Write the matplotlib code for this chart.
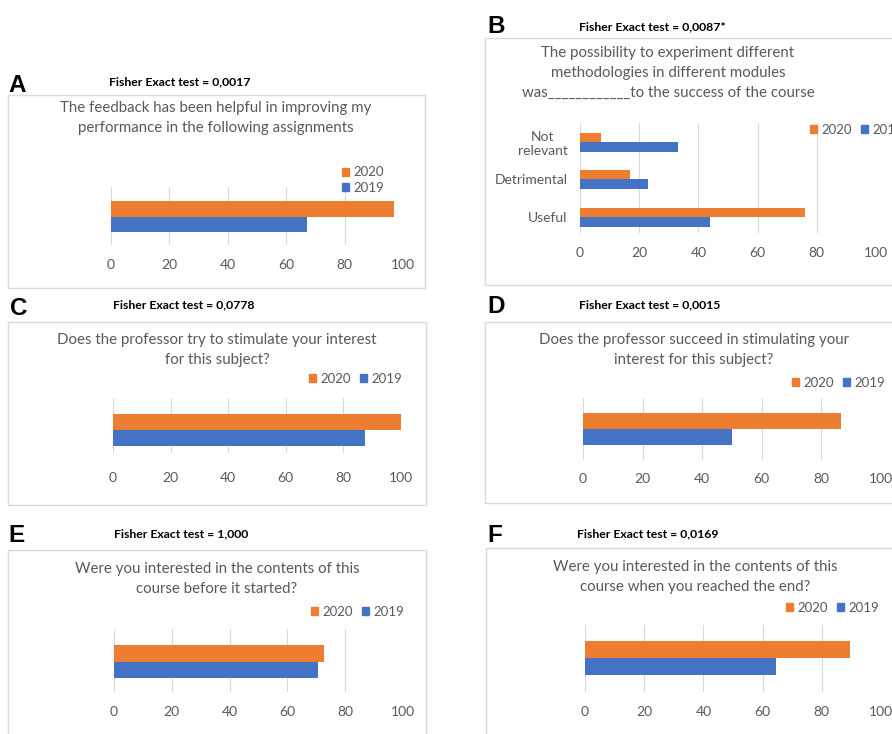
import numpy as np
import matplotlib
matplotlib.use("Agg")
import matplotlib.pyplot as plt
from matplotlib.patches import Rectangle, Patch

plt.rcParams['font.family'] = ['Lato', 'DejaVu Sans']

ORANGE = '#ED7D31'
BLUE = '#4472C4'
GREY = '#595959'
GRID = '#D9D9D9'

W, H = 892, 734

# data (percent of answers)
years = ['2020', '2019']
xticks = [0, 20, 40, 60, 80, 100]

feedback_2020 = [97]
feedback_2019 = [67]

methods_cats = ['Useful', 'Detrimental', 'Not\nrelevant']
methods_2020 = [76, 17, 7]
methods_2019 = [44, 23, 33]

try_2020 = [100]
try_2019 = [87.5]

succeed_2020 = [86.5]
succeed_2019 = [50]

before_2020 = [72.5]
before_2019 = [70.5]

end_2020 = [89.5]
end_2019 = [64.5]

fig = plt.figure(figsize=(W / 100, H / 100), dpi=100)


def fx(px):
    return px / W


def fy(py):
    return 1 - py / H


def panel(letter, lpos, fisher, fpos, box, title, tpos, v20, v19, cats,
          grid, centers, barh, legpos, legcols, tick_pad):
    # box around the excel chart
    x0, y0, x1, y1 = box
    fig.patches.append(Rectangle((fx(x0), fy(y1)), fx(x1) - fx(x0), fy(y0) - fy(y1),
                                 transform=fig.transFigure, fill=False,
                                 edgecolor=GRID, lw=1.0))
    fig.text(fx(lpos[0]), fy(lpos[1]), letter, fontsize=17.5, fontweight='bold',
             family='Liberation Sans', va='baseline', ha='left')
    fig.text(fx(fpos[0]), fy(fpos[1]), fisher, fontsize=8.8, fontweight='bold',
             va='center', ha='left')
    for i, line in enumerate(title):
        fig.text(fx(tpos[0]), fy(tpos[1] + i * 20), line, fontsize=10.8,
                 color=GREY, ha='center', va='center')

    gx0, gx1, gy0, gy1 = grid
    ax = fig.add_axes([fx(gx0), fy(gy1), fx(gx1) - fx(gx0), fy(gy0) - fy(gy1)])
    ax.set_facecolor('none')
    ypos = [(centers[0] - c) / barh for c in centers]
    ypos = np.array(ypos)
    ax.barh(ypos + 0.5, v20, height=1.0, color=ORANGE)
    ax.barh(ypos - 0.5, v19, height=1.0, color=BLUE)
    ax.set_xlim(0, 100)
    ax.set_ylim(-(gy1 - centers[0]) / barh, (centers[0] - gy0) / barh)
    ax.set_xticks(xticks)
    ax.grid(axis='x', color=GRID, lw=0.8)
    ax.set_axisbelow(True)
    for s in ax.spines.values():
        s.set_visible(False)
    ax.tick_params(length=0, labelsize=10, labelcolor=GREY, pad=tick_pad)
    if cats:
        ax.set_yticks(ypos)
        ax.set_yticklabels(cats, multialignment='center')
        ax.tick_params(axis='y', pad=9)
    else:
        ax.set_yticks([])

    handles = [Patch(color=ORANGE, label=years[0]), Patch(color=BLUE, label=years[1])]
    ax.legend(handles=handles, ncol=legcols, loc='center left',
              bbox_to_anchor=(fx(legpos[0]), fy(legpos[1])),
              bbox_transform=fig.transFigure, frameon=False,
              handlelength=0.55, handleheight=0.55, handletextpad=0.3,
              columnspacing=0.7, labelspacing=0.25, borderpad=0,
              borderaxespad=0, labelcolor=GREY, fontsize=9.5)
    return ax


panel('A', (8, 92), 'Fisher Exact test = 0,0017', (109, 82), (8, 95, 425, 288),
      ['The feedback has been helpful in improving my',
       'performance in the following assignments'], (216, 108),
      feedback_2020, feedback_2019, None,
      (111, 403, 187, 245), [216.5], 15.5, (342, 180), 1, 10)

panel('B', (487, 33), 'Fisher Exact test = 0,0087*', (579, 27), (485, 38, 905, 285),
      ['The possibility to experiment different',
       'methodologies in different modules',
       'was____________to the success of the course'], (668, 53),
      methods_2020, methods_2019, methods_cats,
      (580, 876, 123, 233), [217, 179, 142], 9.5, (810, 130), 2, 10)

panel('C', (10, 315), 'Fisher Exact test = 0,0778', (113, 305), (8, 322, 426, 505),
      ['Does the professor try to stimulate your interest',
       'for this subject?'], (217, 340),
      try_2020, try_2019, None,
      (113, 401, 398, 453), [430], 16, (309, 379), 2, 14)

panel('D', (487, 313), 'Fisher Exact test = 0,0015', (579, 305), (485, 322, 905, 503),
      ['Does the professor succeed in stimulating your',
       'interest for this subject?'], (694, 340),
      succeed_2020, succeed_2019, None,
      (583, 881, 398, 460), [429], 16, (792, 383), 2, 9)

panel('E', (8, 542), 'Fisher Exact test = 1,000', (114, 534), (8, 550, 426, 740),
      ['Were you interested in the contents of this',
       'course before it started?'], (217, 569),
      before_2020, before_2019, None,
      (114, 403, 629, 692), [661.5], 16.5, (311, 612), 2, 10)

panel('F', (487, 542), 'Fisher Exact test = 0,0169', (577, 534), (486, 548, 905, 740),
      ['Were you interested in the contents of this',
       'course when you reached the end?'], (695, 567),
      end_2020, end_2019, None,
      (585, 881, 625, 692), [658], 17, (786, 608), 2, 10)

fig.savefig('out.png', dpi=100)
